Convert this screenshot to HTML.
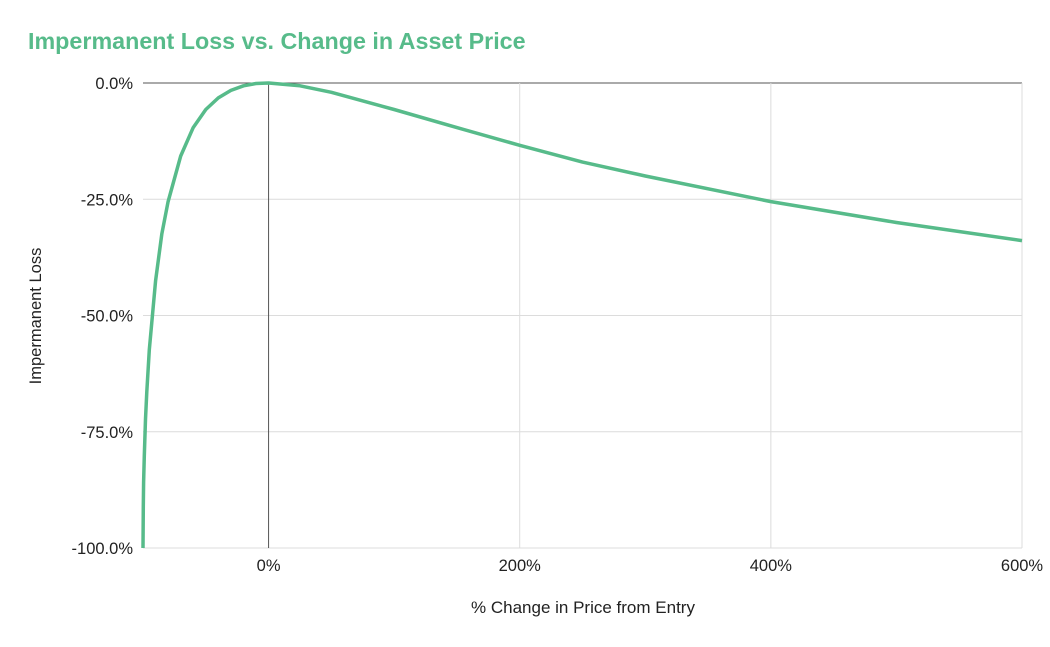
<!DOCTYPE html>
<html><head><meta charset="utf-8"><style>
body{margin:0;background:#fff;font-family:"Liberation Sans",Arial,sans-serif}
</style></head><body>
<svg width="1050" height="642" xmlns="http://www.w3.org/2000/svg" font-family="Liberation Sans, Arial, sans-serif">
<text x="28" y="49" font-size="23.3" font-weight="bold" fill="#57bb8a">Impermanent Loss vs. Change in Asset Price</text>
<g id="grid"></g><g id="ticks"></g>
<text x="583" y="613" font-size="17" fill="#222" text-anchor="middle">% Change in Price from Entry</text>
<text transform="translate(41,316) rotate(-90)" font-size="16.5" fill="#222" text-anchor="middle">Impermanent Loss</text>
<path id="line" fill="none" stroke="#57bb8a" stroke-width="3.5" stroke-linejoin="round"/>
</svg>
<script>
const xVals=[-100,-99.8,-99.5,-99,-98,-97,-95,-90,-85,-80,-70,-60,-50,-40,-30,-20,-10,0,25,50,100,150,200,250,300,400,500,600];
const ilVals=[-100,-91.1,-85.9,-80.2,-72.3,-66.4,-57.4,-42.5,-32.5,-25.5,-15.7,-9.6,-5.7,-3.2,-1.6,-0.6,-0.1,0,-0.6,-2.0,-5.7,-9.6,-13.4,-17.0,-20.0,-25.5,-30.0,-33.9];
const xTicks=[0,200,400,600];
const xTickLabels=["0%","200%","400%","600%"];
const yTicks=[0,-25,-50,-75,-100];
const yTickLabels=["0.0%","-25.0%","-50.0%","-75.0%","-100.0%"];
const X=v=>143+(v+100)*(1022-143)/700;
const Y=v=>83+(-v)*(548-83)/100;
const NS="http://www.w3.org/2000/svg";
const grid=document.getElementById('grid'),ticks=document.getElementById('ticks');
function mk(tag,attrs,parent){const e=document.createElementNS(NS,tag);for(const k in attrs)e.setAttribute(k,attrs[k]);parent.appendChild(e);return e;}
yTicks.forEach((t,i)=>{
  const l=mk('line',{x1:143,x2:1022,y1:Y(t),y2:Y(t),stroke:t===0?'#555':'#dcdcdc','stroke-width':1},grid);
  
  
  const tx=mk('text',{x:133,y:Y(t)+6,'font-size':16.5,fill:'#222','text-anchor':'end'},ticks);
  tx.textContent=yTickLabels[i];
  
  
});
xTicks.forEach((t,i)=>{
  const l=mk('line',{x1:X(t),x2:X(t),y1:83,y2:548,stroke:t===0?'#555':'#dcdcdc','stroke-width':1},grid);
  
  
  const tx=mk('text',{x:X(t),y:571,'font-size':16.5,fill:'#222','text-anchor':'middle'},ticks);
  tx.textContent=xTickLabels[i];
  
  
});
let d='';xVals.forEach((v,i)=>{d+=(i?'L':'M')+X(v).toFixed(1)+' '+Y(ilVals[i]).toFixed(1);});
document.getElementById('line').setAttribute('d',d);
</script>
</body></html>
